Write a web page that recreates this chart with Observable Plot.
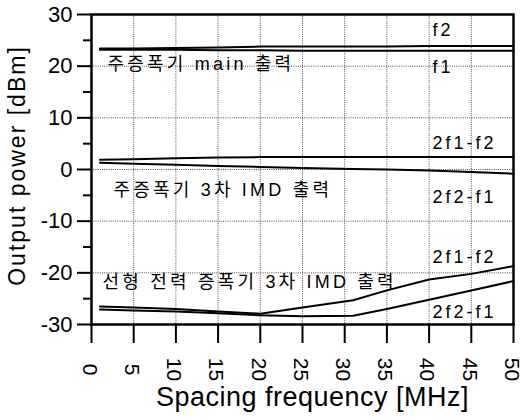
<!DOCTYPE html>
<html>
<head>
<meta charset="utf-8">
<script src="https://cdn.jsdelivr.net/npm/d3@7"></script>
<script src="https://cdn.jsdelivr.net/npm/@observablehq/plot@0.6"></script>
<style>
  body { margin: 0; background: #fff; }
  svg { display: block; }
</style>
</head>
<body>
<div id="chart"></div>
<script>
// Spacing frequency (MHz) at which each curve is sampled
const freq = [1, 5, 10, 15, 20, 25, 31, 35, 40, 45, 50];

// Main amplifier output tones (dBm)
const mainF2 = [23.4, 23.4, 23.5, 23.6, 23.8, 23.8, 23.8, 23.8, 23.9, 23.9, 23.9];
const mainF1 = [23.2, 23.2, 23.2, 23.1, 23.1, 23.0, 23.0, 23.0, 23.0, 23.0, 23.0];

// Main amplifier 3rd-order IMD products (dBm)
const mainImd2f1f2 = [1.9, 2.0, 2.2, 2.3, 2.4, 2.4, 2.4, 2.4, 2.4, 2.4, 2.4];
const mainImd2f2f1 = [1.3, 1.1, 0.9, 0.7, 0.5, 0.3, 0.1, 0.0, -0.2, -0.5, -0.8];

// Linear power amplifier 3rd-order IMD products (dBm)
const linImd2f1f2 = [-26.5, -26.7, -27.0, -27.5, -27.9, -26.7, -25.3, -23.4, -21.3, -20.2, -18.7];
const linImd2f2f1 = [-27.1, -27.3, -27.5, -27.8, -28.2, -28.4, -28.3, -27.0, -25.2, -23.4, -21.6];

// Axis ticks
const xTicks = [0, 5, 10, 15, 20, 25, 30, 35, 40, 45, 50];
const xGrid = [5, 10, 15, 20, 25, 30, 35, 40, 45];
const yMajor = [-30, -20, -10, 0, 10, 20, 30];
const yMinor = [-25, -15, -5, 5, 15, 25];
const yGrid = [-20, -10, 0, 10, 20];

// Curve names and their end labels
const seriesNames = ["f2", "f1", "2f1-f2", "2f2-f1", "2f1-f2 (linear)", "2f2-f1 (linear)"];
const seriesValues = [mainF2, mainF1, mainImd2f1f2, mainImd2f2f1, linImd2f1f2, linImd2f2f1];
const endLabels = ["f2", "f1", "2f1-f2", "2f2-f1", "2f1-f2", "2f2-f1"];
const endLabelY = [26.9, 19.7, 5.0, -5.4, -17.0, -27.6];

// Group captions
const groupCaptions = ["주증폭기 main 출력", "주증폭기 3차 IMD 출력", "선형 전력 증폭기 3차 IMD 출력"];
const groupCaptionX = [1.9, 2.6, 1.3];
const groupCaptionY = [20.3, -4.0, -21.8];

const xTitle = "Spacing frequency [MHz]";
const yTitle = "Output power [dBm]";

const rows = seriesNames.flatMap((name, i) =>
  freq.map((f, j) => ({series: name, freq: f, power: seriesValues[i][j]}))
);
const labelRows = endLabels.map((t, i) => ({text: t, x: 40.4, y: endLabelY[i]}));
const captionRows = groupCaptions.map((t, i) => ({text: t, x: groupCaptionX[i], y: groupCaptionY[i]}));

const latin = "'Liberation Sans', Arial, Helvetica, sans-serif";
const mixed = "'Liberation Sans', 'Noto Sans CJK KR', sans-serif";

const chart = Plot.plot({
  width: 524,
  height: 420,
  marginLeft: 91,
  marginRight: 11,
  marginTop: 14,
  marginBottom: 96,
  x: {domain: [0, 50]},
  y: {domain: [-30, 30]},
  style: {fontFamily: latin, background: "white", color: "black"},
  marks: [
    Plot.gridX(xGrid, {stroke: "#222", strokeOpacity: 0.8, strokeDasharray: "1,1.2"}),
    Plot.gridY(yGrid, {stroke: "#222", strokeOpacity: 0.8, strokeDasharray: "1,1.2"}),
    Plot.line(rows, {x: "freq", y: "power", z: "series", stroke: "black", strokeWidth: 2}),
    Plot.frame({stroke: "black", strokeWidth: 2.5}),
    Plot.axisY(yMajor, {tickSize: 14, tickPadding: 5, fontSize: 22, strokeWidth: 2, label: null,
      tickFormat: d => (d < 0 ? "-" + Math.abs(d) : String(d))}),
    Plot.axisY(yMinor, {tickSize: 8, strokeWidth: 2, label: null, tickFormat: () => ""}),
    Plot.axisX(xTicks, {tickSize: 19, strokeWidth: 2, label: null, tickFormat: () => ""}),
    Plot.text(xTicks, {x: d => d, text: d => String(d), frameAnchor: "bottom", dx: -2, dy: 45,
      rotate: 90, textAnchor: "middle", lineAnchor: "middle", fontSize: 21, fill: "black"}),
    Plot.text([yTitle], {frameAnchor: "left", dx: -74, dy: -4, rotate: -90,
      textAnchor: "middle", lineAnchor: "middle", fontSize: 23, fill: "black"}),
    Plot.text([xTitle], {frameAnchor: "bottom", dx: 10, dy: 73,
      textAnchor: "middle", lineAnchor: "middle", fontSize: 27, fill: "black"}),
    Plot.text(labelRows, {x: "x", y: "y", text: "text", textAnchor: "start",
      lineAnchor: "middle", fontSize: 18, fill: "black"}),
    Plot.text(captionRows, {x: "x", y: "y", text: "text", textAnchor: "start",
      lineAnchor: "middle", fontSize: 18, fontFamily: mixed, fill: "black"})
  ]
});

// Letter spacing for the titles and annotations
const spacing = new Map([[yTitle, "2px"], [xTitle, "0.5px"]]);
endLabels.forEach(t => spacing.set(t, "3px"));
groupCaptions.forEach(t => spacing.set(t, "3.2px"));
d3.select(chart).selectAll("text")
  .filter(function () { return spacing.has(this.textContent); })
  .attr("letter-spacing", function () { return spacing.get(this.textContent); });

document.getElementById("chart").appendChild(chart);
</script>
</body>
</html>
